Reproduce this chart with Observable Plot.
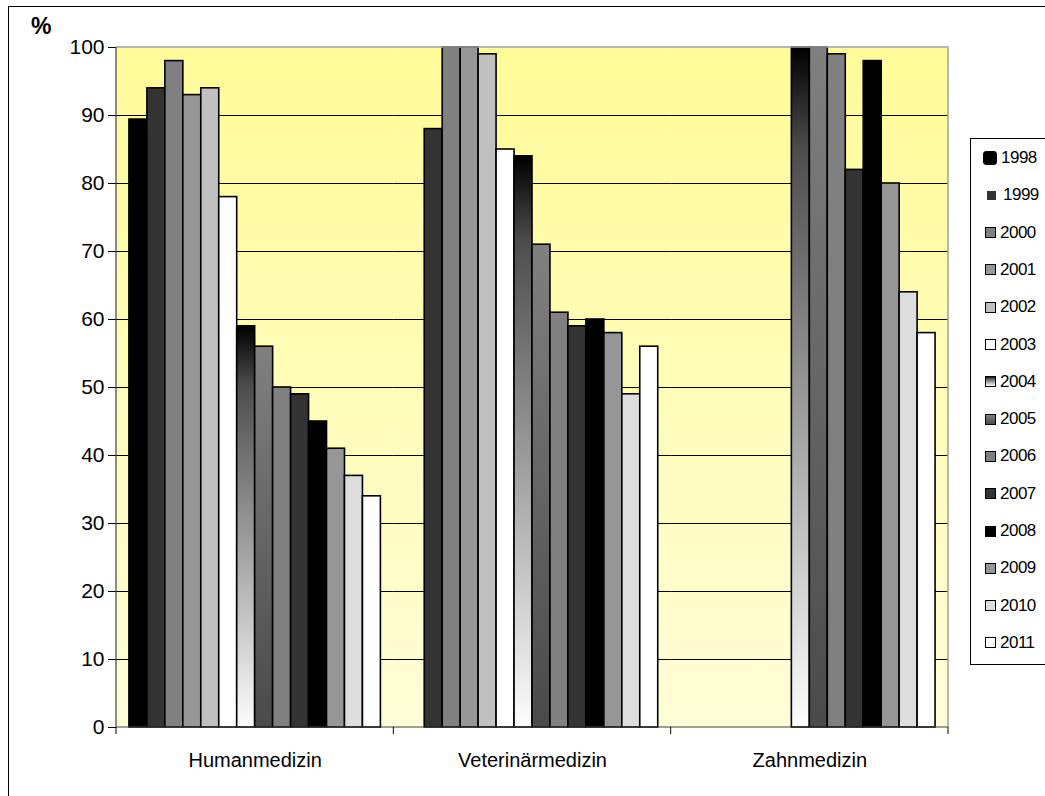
<!DOCTYPE html>
<html>
<head>
<meta charset="utf-8">
<script src="https://cdn.jsdelivr.net/npm/d3@7"></script>
<script src="https://cdn.jsdelivr.net/npm/@observablehq/plot@0.6"></script>
<style>
  html, body { margin: 0; padding: 0; background: #fff; }
  #wrap { position: relative; width: 1045px; height: 796px; overflow: hidden; font-family: "Liberation Sans", Arial, sans-serif; }
  #frame { position: absolute; left: 8px; top: 6px; width: 1200px; height: 1000px; border: 1px solid #000; box-sizing: border-box; }
  #pct { position: absolute; left: 31px; top: 13px; font-size: 23px; font-weight: bold; }
  #chart { position: absolute; left: 0; top: 0; }
  #legend { position: absolute; left: 970px; top: 138px; width: 90px; height: 527px; border: 1px solid #000; box-sizing: border-box; background: #fff; }
  .item { position: absolute; left: 0; height: 20px; display: flex; align-items: center; font-size: 17px; letter-spacing: -0.5px; }
  .sw { display: inline-block; box-sizing: border-box; border: 1.5px solid #000; margin-right: 4px; }
</style>
</head>
<body>
<div id="wrap">
  <div id="frame"></div>
  <div id="chart"></div>
  <div id="pct">%</div>
  <div id="legend"></div>
</div>
<script>
// ---- data ----
const categories = ["Humanmedizin", "Veterinärmedizin", "Zahnmedizin"];
const years = ["1998","1999","2000","2001","2002","2003","2004","2005","2006","2007","2008","2009","2010","2011"];
const human = [89.4, 94, 98, 93, 94, 78, 59, 56, 50, 49, 45, 41, 37, 34];
const vet   = [null, 88, 100, 100, 99, 85, 84, 71, 61, 59, 60, 58, 49, 56];
const zahn  = [null, null, null, null, null, null, 100, 100, 99, 82, 98, 80, 64, 58];
const yTicks = [0, 10, 20, 30, 40, 50, 60, 70, 80, 90, 100];
const yearFills = ["#000000", "#333333", "#808080", "#969696", "#c0c0c0", "#ffffff",
  "url(#g2004)", "url(#g2005)", "#808080", "#333333", "#000000", "#969696", "#dddddd", "#ffffff"];
const legendFills = ["#000000", "#333333", "#808080", "#969696", "#c0c0c0", "#ffffff",
  "linear-gradient(#000, #4d4d4d 15%, #fff)", "linear-gradient(#808080, #4a4a4a)", "#808080", "#333333", "#000000", "#969696", "#dddddd", "#ffffff"];

const series = [human, vet, zahn];
const rows = [];
categories.forEach((c, ci) => years.forEach((y, yi) => {
  const v = series[ci][yi];
  if (v != null) rows.push({cat: c, year: y, value: v});
}));

const W = 1045, H = 796;
const plot = Plot.plot({
  width: W, height: H,
  marginLeft: 116, marginRight: 97, marginTop: 47, marginBottom: 69,
  style: {fontFamily: "'Liberation Sans', Arial, sans-serif", color: "#000", background: "transparent"},
  fx: {domain: categories, paddingInner: 0, paddingOuter: 0, label: null, round: false},
  x: {domain: years, paddingInner: 0, paddingOuter: 0.72, axis: null, round: false},
  y: {domain: [0, 100], label: null},
  color: {type: "ordinal", domain: years, range: yearFills},
  marks: [
    Plot.frame({fill: "url(#bgGrad)", stroke: null}),
    Plot.gridY(yTicks.filter(t => t > 0 && t < 100), {stroke: "#000", strokeOpacity: 1, strokeWidth: 1}),
    Plot.barY(rows, {fx: "cat", x: "year", y: "value", fill: "year", stroke: "#000", strokeWidth: 1.6}),
    Plot.axisY(yTicks, {anchor: "left", tickSize: 8, tickPadding: 4, fontSize: 21, label: null, stroke: "#000"}),
    Plot.axisFx({anchor: "bottom", tickSize: 0, tickPadding: 25, fontSize: 20, label: null})
  ]
});
document.getElementById("chart").appendChild(plot);

// gradients
const svg = d3.select(plot);
const defs = svg.insert("defs", ":first-child");
const bg = defs.append("linearGradient").attr("id", "bgGrad").attr("x1", 0).attr("y1", 0).attr("x2", 0).attr("y2", 1);
bg.append("stop").attr("offset", "0%").attr("stop-color", "#fffb99");
bg.append("stop").attr("offset", "100%").attr("stop-color", "#fffdd8");
const g4 = defs.append("linearGradient").attr("id", "g2004").attr("x1", 0).attr("y1", 0).attr("x2", 0).attr("y2", 1);
g4.append("stop").attr("offset", "0%").attr("stop-color", "#000");
g4.append("stop").attr("offset", "15%").attr("stop-color", "#4d4d4d");
g4.append("stop").attr("offset", "100%").attr("stop-color", "#fdfdfd");
const g5 = defs.append("linearGradient").attr("id", "g2005").attr("x1", 0).attr("y1", 0).attr("x2", 0).attr("y2", 1);
g5.append("stop").attr("offset", "0%").attr("stop-color", "#808080");
g5.append("stop").attr("offset", "100%").attr("stop-color", "#4a4a4a");

// plot-area border, axis lines and category-boundary ticks from the scales
const fx = plot.scale("fx"), ys = plot.scale("y");
const x0 = fx.range[0], x1 = fx.range[1];
const y0 = ys.apply(0), y1 = ys.apply(100);
const g = svg.append("g").attr("fill", "none");
g.append("path").attr("d", `M${x0},${y1}H${x1}V${y0}`).attr("stroke", "#a0a0a0").attr("stroke-width", 1.5);
g.append("path").attr("d", `M${x0},${y1}V${y0}H${x1}`).attr("stroke", "#404040").attr("stroke-width", 1.2);
const bounds = categories.map(c => fx.apply(c)).concat([x1]);
bounds.forEach(b => g.append("line").attr("x1", b).attr("x2", b).attr("y1", y0).attr("y2", y0 + 7).attr("stroke", "#000"));

// legend
const leg = d3.select("#legend");
years.forEach((y, i) => {
  const it = leg.append("div").attr("class", "item").style("top", (19 + i * 37.3 - 10) + "px");
  const size = i === 0 ? 14 : (i === 1 ? 9 : 11);
  const left = i === 0 ? 12 : (i === 1 ? 16 : 14);
  it.style("left", left + "px");
  const sw = it.append("span").attr("class", "sw")
    .style("width", size + "px").style("height", size + "px")
    .style("background", legendFills[i]);
  if (i === 0) sw.style("border-radius", "3px");
  if (i === 1) sw.style("border", "none").style("margin-right", "7px");
  it.append("span").text(y);
});
</script>
</body>
</html>
